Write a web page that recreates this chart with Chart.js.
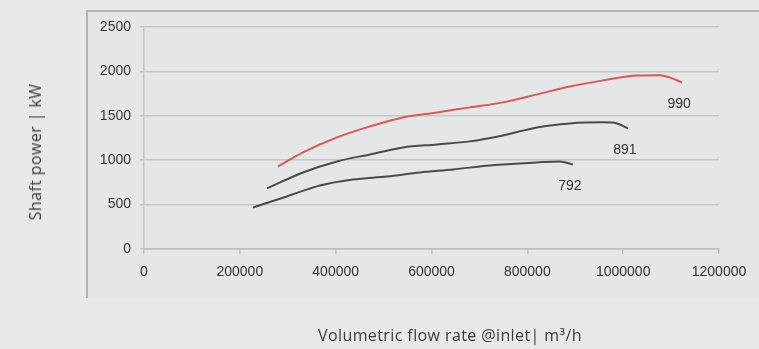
<!DOCTYPE html>
<html>
<head>
<meta charset="utf-8">
<script src="https://cdn.jsdelivr.net/npm/chart.js@4/dist/chart.umd.min.js"></script>
<style>
  html, body { margin: 0; padding: 0; background: #e7e8ea; }
  #wrap { position: relative; width: 759px; height: 349px; overflow: hidden; }
  #plot { position: absolute; left: 0; top: 0; filter: blur(0.6px); }
  .axis-title { position: absolute; font-family: "Open Sans", sans-serif; font-size: 16px; letter-spacing: 0.4px; color: #3a3b3d; white-space: nowrap; }
  #ytitle { left: 35px; top: 152px; transform: translate(-50%, -50%) rotate(-90deg); }
  #xtitle { left: 450px; top: 335px; transform: translate(-50%, -50%); }
</style>
</head>
<body>
<div id="wrap">
  <canvas id="plot" width="759" height="349"></canvas>
  <div id="ytitle" class="axis-title">Shaft power | kW</div>
  <div id="xtitle" class="axis-title">Volumetric flow rate @inlet| m³/h</div>
</div>
<script>
// Compressor curves: shaft power against inlet volume flow, one curve per model
const models = ['990', '891', '792'];

const flow990  = [279700, 331800, 402800, 471700, 540500, 611500, 680000, 749000, 820000, 889000, 958000, 1029000, 1077000, 1098000, 1123000];
const power990 = [930, 1088, 1257, 1381, 1482, 1538, 1595, 1651, 1741, 1831, 1899, 1955, 1958, 1930, 1876];

const flow891  = [256700, 331800, 402800, 471700, 540500, 611500, 680000, 749000, 820000, 889000, 958000, 987000, 1010000];
const power891 = [682, 862, 986, 1065, 1144, 1178, 1212, 1279, 1369, 1414, 1426, 1414, 1358];

const flow792  = [227500, 298000, 367000, 436000, 507000, 576000, 645000, 722000, 749000, 820000, 868000, 895000];
const power792 = [468, 592, 716, 783, 817, 862, 896, 941, 952, 975, 986, 952];

const xTicks = [0, 200000, 400000, 600000, 800000, 1000000, 1200000];
const yTicks = [0, 500, 1000, 1500, 2000, 2500];

const lineColors = ['#e0574f', '#4a4a4a', '#4a4a4a'];

function points(xs, ys) {
  return xs.map((x, i) => ({ x: x, y: ys[i] }));
}

const seriesData = [points(flow990, power990), points(flow891, power891), points(flow792, power792)];

// Inner framed panel behind the plot
const framePlugin = {
  id: 'frame',
  beforeDraw(chart) {
    const ctx = chart.ctx;
    ctx.save();
    ctx.fillStyle = '#e5e6e8';
    ctx.fillRect(86, 11, 759 - 86, 298 - 11);
    ctx.strokeStyle = '#b2b3b5';
    ctx.lineWidth = 2;
    ctx.beginPath();
    ctx.moveTo(87, 298);
    ctx.lineTo(87, 11);
    ctx.lineTo(759, 11);
    ctx.stroke();
    ctx.restore();
  }
};

// Model name written just below the end of each curve
const endLabelPlugin = {
  id: 'endLabels',
  afterDatasetsDraw(chart) {
    const ctx = chart.ctx;
    const xs = chart.scales.x, ys = chart.scales.y;
    ctx.save();
    ctx.font = '14px "Liberation Sans", Arial, sans-serif';
    ctx.fillStyle = '#333333';
    ctx.textAlign = 'center';
    ctx.textBaseline = 'middle';
    chart.data.datasets.forEach((ds) => {
      const last = ds.data[ds.data.length - 1];
      const px = xs.getPixelForValue(last.x);
      const py = ys.getPixelForValue(last.y);
      ctx.fillText(ds.label, px - 3, py + 22);
    });
    ctx.restore();
  }
};

const tickFont = { family: '"Liberation Sans", Arial, sans-serif', size: 14 };

new Chart(document.getElementById('plot'), {
  type: 'line',
  data: {
    datasets: models.map((name, i) => ({
      label: name,
      data: seriesData[i],
      borderColor: lineColors[i],
      borderWidth: 2,
      pointRadius: 0,
      fill: false,
      cubicInterpolationMode: 'monotone'
    }))
  },
  options: {
    responsive: false,
    animation: false,
    events: [],
    layout: { padding: { left: 0, right: 40, top: 27, bottom: 0 } },
    plugins: { legend: { display: false }, tooltip: { enabled: false } },
    scales: {
      x: {
        type: 'linear',
        min: xTicks[0],
        max: xTicks[xTicks.length - 1],
        afterBuildTicks(scale) { scale.ticks = xTicks.map(v => ({ value: v })); },
        afterFit(scale) { scale.height = 100; },
        grid: { drawOnChartArea: false, drawTicks: true, tickLength: 5, color: '#bcbdbf', lineWidth: 1.5 },
        border: { display: true, color: '#bcbdbf', width: 1.5 },
        ticks: { font: tickFont, color: '#333333', padding: 10, maxRotation: 0, autoSkip: false, callback: v => String(v) }
      },
      y: {
        type: 'linear',
        min: yTicks[0],
        max: yTicks[yTicks.length - 1],
        afterBuildTicks(scale) { scale.ticks = yTicks.map(v => ({ value: v })); },
        afterFit(scale) { scale.width = 144; },
        grid: { drawOnChartArea: true, drawTicks: true, tickLength: 4, color: '#c5c6c8', lineWidth: 1.5 },
        border: { display: true, color: '#c5c6c8', width: 1.5 },
        ticks: { font: tickFont, color: '#333333', padding: 9, callback: v => String(v) }
      }
    }
  },
  plugins: [framePlugin, endLabelPlugin]
});
</script>
</body>
</html>
